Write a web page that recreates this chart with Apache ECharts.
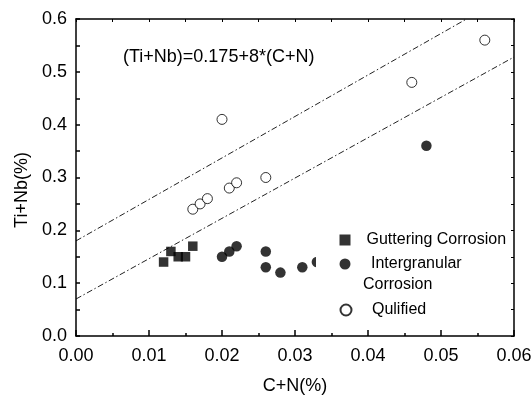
<!DOCTYPE html>
<html>
<head>
<meta charset="utf-8">
<script src="https://cdn.jsdelivr.net/npm/echarts@6/dist/echarts.min.js"></script>
<style>
  html, body { margin: 0; padding: 0; background: #fff; }
  .box { position: absolute; left: 0; top: 0; width: 532px; height: 397px; }
  #frame { pointer-events: none; }
</style>
</head>
<body>
<div id="chart" class="box"></div>
<div id="frame" class="box"></div>
<script>
  // 数据
  var guttX = [0.012, 0.013, 0.014, 0.015, 0.016]
  var guttY = [0.14, 0.16, 0.15, 0.15, 0.17]
  var interX = [0.020, 0.021, 0.022, 0.026, 0.026, 0.028, 0.031, 0.033, 0.048]
  var interY = [0.15, 0.16, 0.17, 0.16, 0.13, 0.12, 0.13, 0.14, 0.36]
  var qualX = [0.016, 0.017, 0.018, 0.020, 0.021, 0.022, 0.026, 0.046, 0.056]
  var qualY = [0.24, 0.25, 0.26, 0.41, 0.28, 0.29, 0.30, 0.48, 0.56]
  var upperX = [0, 0.0535]
  var upperY = [0.18, 0.6]
  var lowerX = [0, 0.06]
  var lowerY = [0.07, 0.528]
  var xTickLabels = ['0.00', '0.01', '0.02', '0.03', '0.04', '0.05', '0.06']
  var yTickLabels = ['0.0', '0.1', '0.2', '0.3', '0.4', '0.5', '0.6']

  var font = 'Liberation Sans, Arial, sans-serif'
  var gridBox = { left: 76, top: 19, right: 18, bottom: 61, outerBoundsMode: 'none' }

  function pairs(xs, ys) {
    return xs.map(function (x, i) { return [x, ys[i]] })
  }

  var legendNames = {
    'Guttering Corrosion': 'Guttering Corrosion',
    'Intergranular Corrosion': ' Intergranular',
    'Qulified': ' Qulified'
  }

  // 主图：数据点、文字、图例
  var myChart = echarts.init(document.getElementById('chart'))
  var option = {
    animation: false,
    grid: gridBox,
    legend: [
      {
        orient: 'vertical',
        left: 316,
        top: 231,
        padding: [0, 4, 0, 23.5],
        backgroundColor: '#fff',
        itemWidth: 11,
        itemHeight: 11,
        itemGap: 6,
        data: ['Guttering Corrosion', 'Intergranular Corrosion'],
        textStyle: { fontFamily: font, fontSize: 16, color: '#000', lineHeight: 18, padding: [0, 0, 0, 11] },
        formatter: function (name) { return legendNames[name] }
      },
      {
        orient: 'vertical',
        left: 339.5,
        top: 301,
        padding: 0,
        itemWidth: 11,
        itemHeight: 11,
        data: ['Qulified'],
        textStyle: { fontFamily: font, fontSize: 16, color: '#000', lineHeight: 18, padding: [0, 0, 0, 11] },
        formatter: function (name) { return legendNames[name] }
      }
    ],
    graphic: [
      {
        type: 'text',
        left: 363,
        top: 277,
        z: 100,
        style: { text: 'Corrosion', font: '16px ' + font, fill: '#000' }
      },
      {
        type: 'text',
        left: 123,
        top: 48,
        style: { text: '(Ti+Nb)=0.175+8*(C+N)', font: '18px ' + font, fill: '#000' }
      }
    ],
    xAxis: {
      type: 'value',
      min: 0,
      max: 0.06,
      interval: 0.01,
      name: 'C+N(%)',
      nameLocation: 'middle',
      nameGap: 41,
      nameTextStyle: { fontSize: 18, color: '#000', fontFamily: font },
      axisLine: { show: false, onZero: false },
      axisTick: { show: false },
      axisLabel: {
        fontSize: 18, color: '#000', fontFamily: font, margin: 11,
        formatter: function (value, index) { return xTickLabels[index] }
      },
      splitLine: { show: false }
    },
    yAxis: {
      type: 'value',
      min: 0,
      max: 0.6,
      interval: 0.1,
      name: 'Ti+Nb(%)',
      nameLocation: 'middle',
      nameGap: 45,
      nameTextStyle: { fontSize: 18, color: '#000', fontFamily: font, padding: [0, 25, 0, 0] },
      axisLine: { show: false, onZero: false },
      axisTick: { show: false },
      axisLabel: {
        fontSize: 18, color: '#000', fontFamily: font, margin: 9,
        formatter: function (value, index) { return yTickLabels[index] }
      },
      splitLine: { show: false }
    },
    series: [
      {
        name: 'upper',
        type: 'line',
        data: pairs(upperX, upperY),
        symbol: 'none',
        lineStyle: { color: '#222', width: 1, type: [6, 2.5, 1.5, 2.5] },
        z: 1
      },
      {
        name: 'lower',
        type: 'line',
        data: pairs(lowerX, lowerY),
        symbol: 'none',
        lineStyle: { color: '#222', width: 1, type: [6, 2.5, 1.5, 2.5] },
        z: 1
      },
      {
        name: 'Guttering Corrosion',
        type: 'scatter',
        symbol: 'rect',
        symbolSize: 9.5,
        itemStyle: { color: '#000' },
        data: pairs(guttX, guttY)
      },
      {
        name: 'Intergranular Corrosion',
        type: 'scatter',
        symbol: 'circle',
        symbolSize: 10.5,
        itemStyle: { color: '#000' },
        data: pairs(interX, interY)
      },
      {
        name: 'Qulified',
        type: 'scatter',
        symbol: 'circle',
        symbolSize: 10,
        itemStyle: { color: '#fff', borderColor: '#000', borderWidth: 1 },
        data: pairs(qualX, qualY)
      }
    ]
  }
  myChart.setOption(option)

  // 边框和刻度单独一层
  var frameChart = echarts.init(document.getElementById('frame'))
  frameChart.setOption({
    animation: false,
    grid: gridBox,
    xAxis: [
      {
        type: 'value', min: 0, max: 0.06, interval: 0.01,
        axisLine: { show: true, onZero: false, lineStyle: { color: '#000', width: 1.5 } },
        axisTick: { show: true, inside: true, length: 6, lineStyle: { color: '#000', width: 1.5 } },
        minorTick: { show: true, splitNumber: 2, length: 3, lineStyle: { color: '#000', width: 1.5 } },
        axisLabel: { show: false },
        splitLine: { show: false }
      },
      {
        type: 'value', position: 'top', min: 0, max: 0.06, interval: 0.005,
        axisLine: { show: true, onZero: false, lineStyle: { color: '#000', width: 1.5 } },
        axisTick: { show: true, inside: true, length: 3, lineStyle: { color: '#000', width: 1 } },
        axisLabel: { show: false },
        splitLine: { show: false }
      }
    ],
    yAxis: [
      {
        type: 'value', min: 0, max: 0.6, interval: 0.1,
        axisLine: { show: true, onZero: false, lineStyle: { color: '#000', width: 1.5 } },
        axisTick: { show: true, inside: true, length: 4, lineStyle: { color: '#000', width: 1.5 } },
        minorTick: { show: true, splitNumber: 2, length: 4, lineStyle: { color: '#000', width: 1.5 } },
        axisLabel: { show: false },
        splitLine: { show: false }
      },
      {
        type: 'value', position: 'right', min: 0, max: 0.6, interval: 0.05,
        axisLine: { show: true, onZero: false, lineStyle: { color: '#000', width: 1.5 } },
        axisTick: { show: true, inside: true, length: 3, lineStyle: { color: '#000', width: 1 } },
        axisLabel: { show: false },
        splitLine: { show: false }
      }
    ],
    series: [{ type: 'scatter', data: [] }]
  })
</script>
</body>
</html>
